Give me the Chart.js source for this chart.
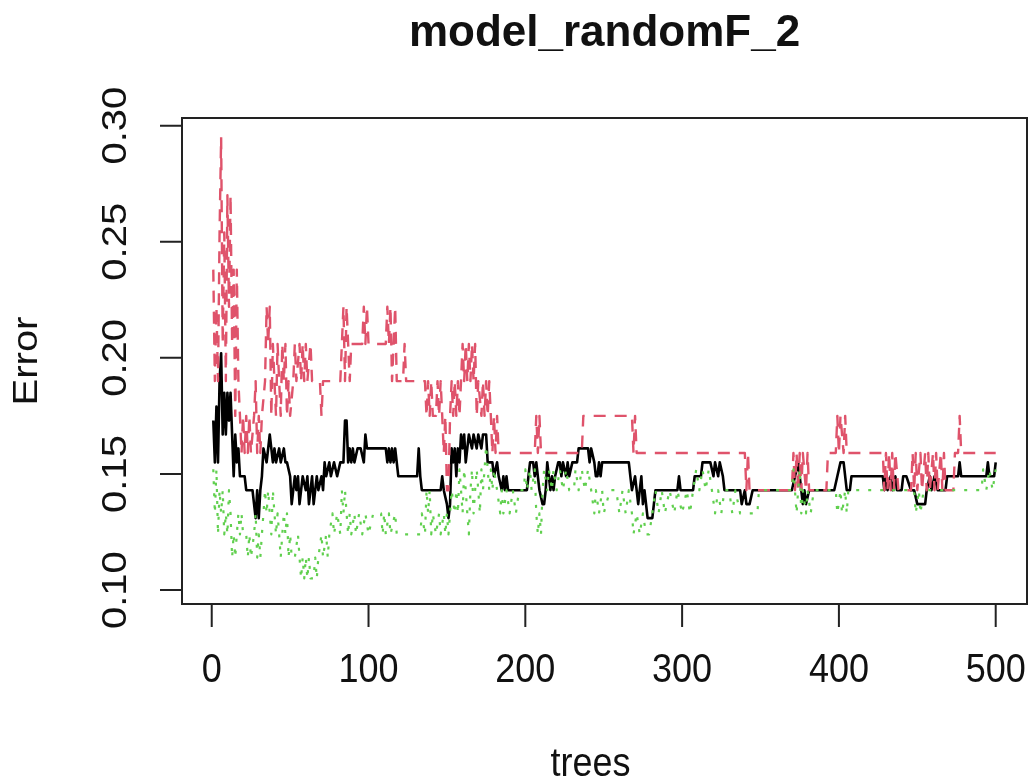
<!DOCTYPE html>
<html>
<head>
<meta charset="utf-8">
<script src="https://cdn.jsdelivr.net/npm/chart.js@4.4.0/dist/chart.umd.min.js"></script>
<style>
html,body{margin:0;padding:0;background:#fff;}
#wrap{width:1030px;height:780px;position:relative;}
</style>
</head>
<body>
<div id="wrap"><canvas id="c" width="1030" height="780"></canvas></div>
<script>
// ---- data (randomForest error vs number of trees) ----
const chartTitle = "model_randomF_2";
const xTitle = "trees";
const yTitle = "Error";
const xTicks = [0, 100, 200, 300, 400, 500];
const xTickLabels = ["0", "100", "200", "300", "400", "500"];
const yTicks = [0.10, 0.15, 0.20, 0.25, 0.30];
const yTickLabels = ["0.10", "0.15", "0.20", "0.25", "0.30"];

// OOB error (black, solid)
const oobTrees = [1,2,3,4,5,6,7,8,9,10,11,12,13,14,15,16,17,18,21,22,26,27,28,29,30,31,32,33,35,37,38,39,40,41,43,44,46,47,48,50,51,52,53,54,55,56,57,58,60,61,62,63,64,65,66,67,68,70,71,72,73,75,76,78,80,82,84,85,86,87,88,89,90,91,93,95,97,98,99,111,112,113,114,115,116,117,118,119,131,132,133,134,146,147,148,150,151,152,153,154,155,156,157,158,159,160,161,162,163,164,166,167,169,170,172,173,175,176,177,179,180,182,183,185,186,187,188,189,201,202,203,205,206,207,208,209,211,212,213,214,215,216,217,218,219,221,222,223,224,226,227,228,230,233,234,236,240,241,242,244,245,246,247,248,249,266,267,268,270,271,272,273,274,275,276,277,278,281,282,283,285,297,298,299,307,308,312,313,315,318,320,321,323,324,326,327,337,338,340,341,343,345,370,372,374,375,377,378,379,381,397,399,401,403,405,407,408,428,429,430,431,433,434,436,437,440,441,443,446,448,450,455,456,458,459,461,463,468,469,476,477,478,494,495,496,499,500];
const oobErr = [.173,.155,.179,.155,.190,.202,.167,.185,.167,.185,.173,.185,.167,.149,.167,.155,.161,.149,.149,.143,.143,.137,.131,.143,.131,.143,.149,.161,.155,.167,.161,.155,.161,.155,.161,.155,.161,.155,.155,.149,.137,.143,.149,.143,.149,.137,.143,.149,.143,.149,.137,.143,.149,.137,.143,.149,.143,.149,.143,.155,.149,.155,.149,.155,.149,.155,.155,.173,.173,.155,.161,.155,.161,.155,.161,.161,.155,.167,.161,.161,.155,.161,.155,.161,.155,.161,.155,.149,.149,.161,.149,.143,.143,.149,.143,.137,.131,.137,.161,.155,.161,.149,.161,.155,.167,.161,.167,.155,.161,.167,.161,.167,.161,.167,.161,.167,.167,.155,.155,.155,.149,.155,.149,.143,.149,.143,.149,.143,.143,.149,.155,.155,.149,.155,.149,.143,.137,.137,.143,.155,.149,.143,.149,.143,.149,.155,.155,.149,.155,.149,.155,.149,.155,.155,.161,.161,.161,.155,.161,.155,.149,.149,.155,.149,.155,.155,.149,.143,.149,.143,.137,.143,.149,.137,.143,.137,.131,.131,.137,.143,.143,.143,.149,.143,.143,.149,.149,.155,.155,.155,.149,.155,.149,.155,.149,.143,.143,.137,.143,.137,.137,.143,.143,.149,.155,.149,.137,.143,.137,.143,.143,.149,.155,.155,.143,.143,.149,.149,.143,.149,.143,.149,.143,.149,.143,.143,.149,.149,.143,.143,.137,.137,.143,.149,.143,.149,.143,.143,.149,.149,.155,.149,.149,.155,.149,.149,.155];

// class 1 error (red, dashed)
const cls1Trees = [1,2,3,4,5,6,7,8,9,10,11,12,13,14,15,16,17,18,19,20,21,22,23,24,25,27,28,29,30,31,32,34,35,36,37,38,39,40,41,42,43,44,45,46,47,48,49,50,52,53,54,56,57,58,59,60,61,63,64,69,70,71,82,83,84,85,86,87,88,89,96,97,98,99,100,111,112,113,114,115,116,117,118,122,123,124,136,137,138,139,140,141,143,144,145,146,147,148,149,150,151,152,153,154,155,156,157,158,159,160,161,162,163,164,165,166,167,168,169,170,172,173,174,175,176,177,178,179,180,181,182,183,206,207,208,209,210,236,237,268,269,270,271,340,341,342,343,370,371,372,373,374,375,376,377,379,380,381,392,393,398,399,400,401,403,404,405,428,429,430,431,432,433,434,435,436,438,446,447,448,449,450,452,453,455,456,457,458,460,461,462,463,465,466,467,468,473,474,476,477,478,500];
const cls1Err = [.238,.190,.222,.190,.254,.295,.206,.254,.190,.270,.222,.270,.206,.238,.175,.238,.190,.175,.159,.175,.159,.175,.159,.175,.159,.175,.190,.159,.175,.159,.175,.190,.222,.206,.222,.175,.206,.190,.175,.206,.190,.175,.206,.190,.206,.175,.190,.175,.190,.206,.190,.206,.190,.206,.190,.206,.190,.206,.190,.190,.175,.190,.190,.206,.222,.190,.222,.206,.190,.206,.206,.222,.206,.222,.206,.206,.222,.206,.222,.190,.206,.222,.190,.190,.206,.190,.190,.175,.190,.175,.190,.175,.175,.190,.175,.190,.175,.159,.175,.143,.143,.175,.190,.175,.190,.175,.190,.175,.190,.206,.190,.206,.190,.206,.190,.206,.190,.206,.175,.190,.175,.190,.175,.190,.175,.190,.175,.159,.175,.159,.175,.159,.159,.175,.159,.175,.159,.159,.175,.175,.159,.175,.159,.159,.143,.159,.143,.143,.159,.143,.159,.143,.159,.143,.159,.143,.159,.143,.143,.159,.159,.175,.159,.175,.159,.175,.159,.159,.143,.159,.143,.159,.143,.159,.143,.159,.143,.143,.159,.143,.159,.143,.159,.143,.159,.143,.159,.143,.159,.143,.159,.143,.159,.143,.159,.143,.143,.159,.159,.175,.159,.159];

// class 2 error (green, dotted)
const cls2Trees = [1,2,3,4,5,6,7,8,9,10,11,12,13,14,15,16,17,18,19,20,22,23,24,25,27,28,29,30,31,32,33,34,35,36,37,38,39,40,41,42,43,44,45,46,47,48,49,50,51,53,55,56,57,58,59,60,61,62,63,65,66,67,68,70,71,73,74,75,77,78,80,82,83,84,85,86,87,88,89,91,92,94,96,98,100,103,108,109,110,111,113,114,117,118,133,134,136,137,138,139,140,141,143,145,146,148,149,150,151,152,153,155,156,157,158,159,160,161,162,163,164,165,166,167,168,169,170,171,172,173,174,175,176,177,178,179,180,182,184,185,186,188,190,192,194,196,199,200,201,203,204,206,207,208,209,210,211,212,214,215,217,218,220,222,224,226,228,231,232,234,236,238,240,242,244,245,247,249,250,254,258,260,262,264,266,268,269,271,273,275,277,279,281,283,285,287,289,292,295,297,300,303,305,307,309,311,313,315,317,319,321,323,325,327,330,332,334,337,348,349,370,371,373,374,375,376,377,379,380,382,384,398,399,401,402,404,405,406,448,449,451,452,454,491,492,494,496,498,500];
const cls2Err = [.152,.133,.152,.124,.143,.133,.143,.124,.133,.124,.143,.133,.114,.124,.114,.124,.133,.124,.133,.124,.124,.114,.124,.114,.124,.133,.114,.124,.114,.124,.133,.143,.133,.143,.133,.124,.143,.133,.124,.133,.124,.114,.124,.133,.124,.133,.114,.124,.114,.114,.124,.114,.105,.114,.105,.114,.105,.114,.105,.105,.114,.105,.114,.124,.114,.124,.114,.124,.133,.124,.133,.124,.143,.133,.143,.133,.124,.133,.124,.133,.124,.133,.124,.133,.124,.133,.133,.124,.133,.124,.133,.124,.133,.124,.124,.133,.124,.143,.133,.143,.124,.133,.124,.133,.124,.133,.124,.133,.124,.133,.143,.133,.143,.133,.152,.143,.133,.152,.143,.133,.124,.143,.152,.133,.143,.152,.143,.133,.152,.143,.152,.162,.152,.143,.152,.143,.152,.143,.133,.143,.133,.143,.133,.143,.133,.143,.143,.152,.143,.152,.143,.152,.133,.124,.133,.124,.143,.152,.143,.152,.143,.152,.143,.152,.143,.152,.143,.143,.152,.143,.152,.143,.152,.143,.133,.143,.133,.143,.133,.143,.143,.133,.143,.133,.143,.133,.124,.133,.124,.133,.124,.124,.133,.143,.133,.143,.133,.143,.133,.143,.133,.143,.133,.143,.152,.143,.152,.143,.152,.143,.133,.143,.133,.143,.143,.133,.143,.133,.133,.143,.143,.152,.133,.143,.152,.133,.143,.133,.143,.133,.143,.143,.133,.143,.133,.143,.133,.143,.143,.133,.143,.133,.143,.143,.152,.143,.152,.143,.152];

const toXY = (t, v) => t.map((tv, i) => ({x: tv, y: v[i]}));

const FONT = '"Liberation Sans", Arial, Helvetica, sans-serif';
function drawLabel(ctx, text, cx, cy, font, rotate, sx) {
  ctx.save();
  ctx.translate(cx, cy);
  ctx.scale(sx, 1);
  if (rotate) ctx.rotate(-Math.PI / 2);
  ctx.font = font;
  ctx.fillStyle = '#111';
  ctx.textAlign = 'center';
  ctx.textBaseline = 'middle';
  ctx.fillText(text, 0, 0);
  ctx.restore();
}

const rAxes = {
  id: 'rAxes',
  afterDraw(chart) {
    const ctx = chart.ctx, a = chart.chartArea, xs = chart.scales.x, ys = chart.scales.y;
    ctx.save();
    ctx.strokeStyle = '#222';
    ctx.lineWidth = 2;
    ctx.strokeRect(a.left, a.top, a.right - a.left, a.bottom - a.top);
    ctx.beginPath();
    const xa = xs.getPixelForValue(xTicks[0]), xb = xs.getPixelForValue(xTicks[xTicks.length - 1]);
    ctx.moveTo(xa, a.bottom); ctx.lineTo(xb, a.bottom);
    xTicks.forEach(v => { const p = xs.getPixelForValue(v); ctx.moveTo(p, a.bottom); ctx.lineTo(p, a.bottom + 23); });
    const ya = ys.getPixelForValue(yTicks[0]), yb = ys.getPixelForValue(yTicks[yTicks.length - 1]);
    ctx.moveTo(a.left, ya); ctx.lineTo(a.left, yb);
    yTicks.forEach(v => { const p = ys.getPixelForValue(v); ctx.moveTo(a.left, p); ctx.lineTo(a.left - 22, p); });
    ctx.stroke();
    ctx.restore();

    const tickFont = '40px ' + FONT;
    xTicks.forEach((v, i) => drawLabel(ctx, xTickLabels[i], xs.getPixelForValue(v), 671, tickFont, false, 0.9));
    yTicks.forEach((v, i) => drawLabel(ctx, yTickLabels[i], 116, ys.getPixelForValue(v), tickFont, true, 0.88));
    drawLabel(ctx, xTitle, (a.left + a.right) / 2 - 14, 765, '40px ' + FONT, false, 0.9);
    drawLabel(ctx, yTitle, 27, (a.top + a.bottom) / 2, '40px ' + FONT, true, 0.88);
    drawLabel(ctx, chartTitle, (a.left + a.right) / 2, 34, 'bold 44px ' + FONT, false, 1.0);
  }
};

new Chart(document.getElementById('c'), {
  type: 'line',
  data: {
    datasets: [
      { label: 'OOB', data: toXY(oobTrees, oobErr), borderColor: '#000000', borderWidth: 2.6, borderJoinStyle: 'round', pointRadius: 0, tension: 0, order: 3 },
      { label: '1', data: toXY(cls1Trees, cls1Err), borderColor: '#DF536B', borderWidth: 2.4, borderJoinStyle: 'round', borderDash: [12, 9], pointRadius: 0, tension: 0, order: 2 },
      { label: '2', data: toXY(cls2Trees, cls2Err), borderColor: '#61D04F', borderWidth: 2.2, borderJoinStyle: 'round', borderDash: [3, 9], pointRadius: 0, tension: 0, order: 1 }
    ]
  },
  options: {
    responsive: false,
    animation: false,
    events: [],
    layout: { padding: { left: 182, right: 3, top: 118, bottom: 176 } },
    plugins: { legend: { display: false }, tooltip: { enabled: false }, title: { display: false } },
    scales: {
      x: { type: 'linear', min: -18.96, max: 519.96, display: false },
      y: { type: 'linear', min: 0.094, max: 0.3033, display: false }
    }
  },
  plugins: [rAxes, {
    id: 'bg',
    beforeDraw(chart) { const c = chart.ctx; c.save(); c.fillStyle = '#fff'; c.fillRect(0, 0, chart.width, chart.height); c.restore(); }
  }]
});
</script>
</body>
</html>
